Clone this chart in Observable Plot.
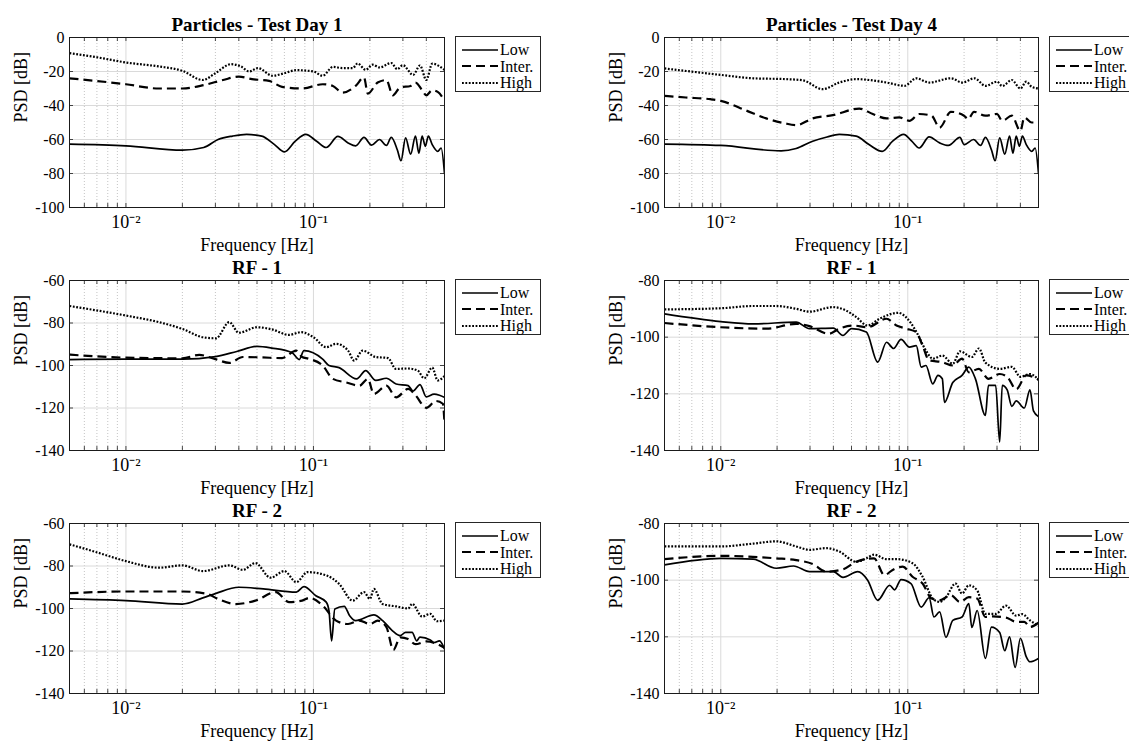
<!DOCTYPE html>
<html><head><meta charset="utf-8">
<script src="https://cdn.jsdelivr.net/npm/d3@7"></script>
<script src="https://cdn.jsdelivr.net/npm/@observablehq/plot@0.6"></script>
<style>
html,body{margin:0;padding:0;background:#fff;}
#root{position:relative;width:1129px;height:745px;overflow:hidden;font-family:"Liberation Serif",serif;}
.panel{position:absolute;}
.legend{position:absolute;border:1px solid #262626;background:#fff;box-sizing:border-box;width:86px;height:56px;}
.legend .row{position:absolute;left:0;height:16px;display:flex;align-items:center;font-size:16px;line-height:15px;color:#000;white-space:nowrap;}
.legend .row span{display:block;line-height:15px;height:15px;}
.legend svg{display:block;margin-left:6px;margin-right:2px;}
</style></head><body><div id="root"></div>
<script>
// ---------- data: [frequency Hz, PSD dB] ----------
const seriesNames = ["Low", "Inter.", "High"];
const titles = ["Particles - Test Day 1", "Particles - Test Day 4", "RF - 1", "RF - 1", "RF - 2", "RF - 2"];
const xDomain = [0.005, 0.5];
const xTickValues = [0.01, 0.1];
const xTickLabels = ["10\u207B\u00B2", "10\u207B\u00B9"];
const xMinor = [0.006, 0.007, 0.008, 0.009, 0.02, 0.03, 0.04, 0.05, 0.06, 0.07, 0.08, 0.09, 0.2, 0.3, 0.4];
const yTicksParticles = [-100, -80, -60, -40, -20, 0];
const yTicksRF1L = [-140, -120, -100, -80, -60];
const yTicksRF1R = [-140, -120, -100, -80];

const p1Low = [[0.005,-62.7],[0.01,-63.7],[0.02,-66.3],[0.026,-64.7],[0.031,-60],[0.037,-58],[0.044,-57],[0.053,-58],[0.062,-63],[0.07,-67.3],[0.08,-61],[0.091,-57],[0.104,-61],[0.117,-64.7],[0.135,-58.2],[0.153,-62],[0.168,-63.7],[0.186,-58.8],[0.204,-63.3],[0.225,-60],[0.245,-63.5],[0.26,-58.8],[0.28,-66],[0.293,-72.5],[0.31,-59],[0.33,-68.6],[0.35,-58],[0.365,-68],[0.38,-58],[0.395,-64],[0.41,-58],[0.43,-63],[0.46,-67],[0.48,-65],[0.5,-80]];
const p1Inter = [[0.005,-24],[0.01,-27.5],[0.015,-30],[0.02,-30],[0.026,-28],[0.033,-25],[0.04,-23],[0.047,-24.5],[0.058,-25.5],[0.068,-29],[0.087,-30],[0.112,-27.5],[0.127,-28.5],[0.143,-32.4],[0.168,-28.4],[0.186,-23.5],[0.195,-33],[0.22,-26.5],[0.245,-25],[0.265,-34],[0.29,-29.4],[0.33,-28.5],[0.35,-26.5],[0.38,-31],[0.40,-34],[0.43,-31],[0.46,-32],[0.5,-37]];
const p1High = [[0.005,-9.2],[0.0069,-11.5],[0.01,-14.7],[0.0149,-17],[0.02,-19.6],[0.0257,-25],[0.03,-21],[0.0363,-15.7],[0.041,-17],[0.0455,-20],[0.0505,-18],[0.0606,-22.5],[0.07,-21],[0.081,-19.2],[0.1,-20],[0.112,-22.5],[0.127,-17.3],[0.143,-18],[0.162,-18],[0.172,-15.3],[0.19,-19],[0.207,-16],[0.225,-17.6],[0.26,-15],[0.28,-18.6],[0.3,-16.3],[0.34,-22],[0.37,-16.5],[0.4,-25],[0.43,-15.4],[0.5,-19]];

const p2Low = [[0.005,-62.7],[0.01,-63.5],[0.021,-66.7],[0.0253,-65.3],[0.031,-61],[0.037,-58.5],[0.043,-57],[0.053,-58],[0.062,-63],[0.073,-67],[0.083,-61],[0.095,-57],[0.105,-61],[0.115,-65],[0.13,-58.5],[0.148,-62],[0.165,-63.5],[0.19,-58.8],[0.2,-63],[0.225,-60],[0.245,-63.5],[0.26,-58.8],[0.28,-66],[0.293,-72.5],[0.31,-59],[0.33,-68.6],[0.35,-58],[0.365,-68],[0.38,-58],[0.395,-64],[0.41,-58],[0.43,-63],[0.46,-67],[0.48,-65],[0.5,-80]];
const p2Inter = [[0.005,-34.3],[0.0065,-35.3],[0.0088,-36.3],[0.01,-37.3],[0.0137,-43],[0.0175,-47.6],[0.0218,-50.4],[0.0253,-51.6],[0.031,-47.6],[0.0398,-45.7],[0.055,-41.8],[0.065,-45],[0.077,-47.6],[0.09,-47],[0.102,-49],[0.115,-45],[0.134,-46],[0.148,-53],[0.17,-43.7],[0.2,-46],[0.21,-48],[0.226,-43.7],[0.26,-46],[0.3,-45],[0.32,-49],[0.36,-46],[0.4,-55],[0.42,-47],[0.46,-50],[0.5,-50]];
const p2High = [[0.005,-18.2],[0.01,-22],[0.0149,-24],[0.0224,-24.5],[0.0275,-25.2],[0.035,-30.4],[0.043,-26.5],[0.053,-24.5],[0.077,-26.5],[0.096,-28.4],[0.111,-24],[0.13,-26.5],[0.17,-24],[0.196,-26.5],[0.227,-24],[0.26,-28.4],[0.3,-26],[0.32,-28.5],[0.36,-25],[0.4,-30],[0.43,-26],[0.46,-29],[0.5,-30]];

const p3Low = [[0.005,-97.2],[0.01,-97],[0.02,-97],[0.03,-95.8],[0.039,-93.4],[0.05,-91],[0.06,-91.8],[0.077,-94],[0.084,-97.2],[0.089,-93],[0.112,-97],[0.121,-100],[0.137,-101],[0.17,-106.3],[0.19,-102.4],[0.215,-107],[0.245,-106],[0.276,-108.7],[0.32,-109.5],[0.34,-112],[0.37,-109],[0.4,-114.8],[0.44,-113.5],[0.47,-114],[0.5,-115]];
const p3Inter = [[0.005,-94.9],[0.01,-96.3],[0.02,-96.6],[0.0246,-95],[0.03,-97],[0.0356,-98.8],[0.042,-96],[0.053,-96.2],[0.068,-96.5],[0.081,-93],[0.087,-96],[0.094,-96.8],[0.112,-100],[0.127,-106.3],[0.15,-108],[0.176,-109.5],[0.195,-106.3],[0.21,-113.4],[0.245,-109.5],[0.276,-115],[0.32,-111],[0.35,-114],[0.4,-119.9],[0.45,-116.7],[0.49,-118],[0.5,-127]];
const p3High = [[0.005,-72],[0.01,-76.5],[0.015,-79.6],[0.02,-82.8],[0.0257,-86.7],[0.0302,-87.2],[0.0356,-79.6],[0.04,-84.6],[0.05,-82],[0.06,-83],[0.074,-85.6],[0.086,-84.3],[0.1,-86.7],[0.117,-91.4],[0.132,-89.8],[0.153,-93],[0.165,-97.7],[0.183,-93],[0.215,-96],[0.25,-96.5],[0.275,-101.6],[0.32,-101.4],[0.36,-102.4],[0.39,-106],[0.43,-101],[0.46,-107],[0.5,-105]];

const p4Low = [[0.005,-91.8],[0.01,-94.5],[0.0149,-95.3],[0.0253,-94.7],[0.0298,-97],[0.04,-96.8],[0.045,-99.4],[0.05,-97],[0.06,-98.2],[0.069,-108.8],[0.077,-101.8],[0.084,-104],[0.092,-100.8],[0.102,-103.5],[0.111,-103],[0.118,-110.6],[0.125,-110],[0.136,-116.5],[0.145,-113.5],[0.153,-114.7],[0.157,-123],[0.174,-116],[0.195,-113.5],[0.212,-110.6],[0.23,-114.7],[0.26,-127.6],[0.27,-117],[0.295,-117],[0.31,-137],[0.32,-117],[0.34,-118.6],[0.36,-124.4],[0.38,-122.5],[0.42,-125],[0.45,-118.6],[0.47,-126],[0.5,-128]];
const p4Inter = [[0.005,-95],[0.01,-96.5],[0.0175,-97],[0.0253,-95.3],[0.0298,-96.1],[0.0378,-98.8],[0.043,-97],[0.051,-95.9],[0.061,-96.5],[0.077,-93.5],[0.087,-95.9],[0.098,-97],[0.111,-98.2],[0.12,-103],[0.13,-108.2],[0.153,-108.8],[0.174,-110],[0.195,-107.6],[0.212,-112.4],[0.24,-111.2],[0.27,-114.7],[0.31,-113],[0.34,-114],[0.38,-118.4],[0.43,-113.5],[0.5,-115]];
const p4High = [[0.005,-90.2],[0.01,-89.8],[0.0149,-89],[0.0198,-89],[0.0253,-90],[0.0298,-91],[0.0397,-89.4],[0.0468,-90.6],[0.053,-92.9],[0.061,-95.9],[0.0706,-93.5],[0.089,-91.4],[0.098,-93],[0.11,-97.6],[0.125,-104.7],[0.136,-107.6],[0.153,-106.5],[0.174,-109.4],[0.19,-105],[0.22,-107],[0.24,-104],[0.26,-109],[0.31,-111.2],[0.36,-110.5],[0.4,-114],[0.45,-113],[0.5,-115]];

const p5Low = [[0.005,-95.5],[0.01,-96.3],[0.02,-97.9],[0.0257,-95],[0.03,-93],[0.04,-90],[0.054,-90.8],[0.081,-92.3],[0.089,-89.7],[0.103,-94],[0.117,-97],[0.121,-101],[0.125,-115.2],[0.13,-100.2],[0.146,-99],[0.156,-103.4],[0.168,-105.7],[0.21,-103],[0.234,-105.7],[0.264,-110.5],[0.29,-112.8],[0.31,-111.2],[0.336,-111.2],[0.355,-115.2],[0.37,-113.5],[0.42,-114.8],[0.44,-116],[0.47,-115.2],[0.5,-119]];
const p5Inter = [[0.005,-92.8],[0.01,-92],[0.02,-92],[0.0268,-93],[0.031,-95.5],[0.0386,-97.9],[0.049,-96.3],[0.063,-92.3],[0.074,-97],[0.087,-96.3],[0.095,-95],[0.112,-98.6],[0.132,-105.7],[0.153,-107.3],[0.176,-105.7],[0.2,-107.3],[0.22,-105.7],[0.245,-108.8],[0.267,-119.5],[0.29,-113.6],[0.32,-114.4],[0.35,-116.8],[0.4,-115.5],[0.45,-116.5],[0.5,-118.5]];
const p5High = [[0.005,-69.8],[0.0069,-73.4],[0.01,-77.7],[0.015,-80.8],[0.02,-79.7],[0.0257,-82.4],[0.0356,-79.7],[0.042,-81.8],[0.049,-78.6],[0.059,-85.5],[0.07,-82.4],[0.081,-87.6],[0.093,-82.9],[0.117,-84.4],[0.137,-88.4],[0.162,-96.3],[0.186,-92.3],[0.2,-95.5],[0.21,-90.8],[0.234,-97.9],[0.276,-99],[0.32,-100],[0.336,-97.8],[0.38,-103.8],[0.42,-102.5],[0.455,-106],[0.5,-105.7]];

const p6Low = [[0.005,-94.6],[0.01,-92.3],[0.0149,-92.6],[0.0198,-95.8],[0.0245,-95],[0.0298,-97],[0.04,-97],[0.045,-99],[0.054,-97],[0.061,-100],[0.069,-107.1],[0.08,-101.8],[0.085,-103.4],[0.092,-99.8],[0.104,-101.2],[0.118,-109.5],[0.13,-106.2],[0.138,-113],[0.148,-111.2],[0.16,-120.2],[0.174,-114.2],[0.195,-113],[0.212,-108.3],[0.22,-116.7],[0.235,-110.7],[0.26,-127.6],[0.28,-116.6],[0.31,-118.5],[0.33,-124.9],[0.35,-120],[0.375,-130.8],[0.4,-120.5],[0.43,-127],[0.45,-128.8],[0.5,-127.6]];
const p6Inter = [[0.005,-92.6],[0.01,-91.4],[0.0198,-92.3],[0.0253,-92.9],[0.031,-94.3],[0.0367,-97],[0.045,-96.2],[0.053,-93.5],[0.066,-92.3],[0.075,-98.2],[0.083,-96.4],[0.094,-95.2],[0.106,-98.8],[0.12,-101.2],[0.134,-106.5],[0.148,-107.1],[0.17,-105.3],[0.19,-107.7],[0.212,-106],[0.235,-106.5],[0.26,-113],[0.285,-112.8],[0.335,-113.2],[0.38,-114.7],[0.42,-114.7],[0.45,-116.5],[0.5,-115]];
const p6High = [[0.005,-88.1],[0.01,-88.1],[0.0149,-87.1],[0.0198,-86.3],[0.0253,-88.1],[0.0298,-89.3],[0.0367,-88.7],[0.043,-89.9],[0.053,-93.5],[0.06,-92.3],[0.066,-91],[0.077,-92.6],[0.088,-92.6],[0.106,-94],[0.12,-98.8],[0.136,-106.5],[0.148,-107.7],[0.16,-106],[0.18,-101.2],[0.195,-104.7],[0.212,-101.8],[0.235,-103.6],[0.26,-111.9],[0.295,-111.9],[0.335,-109],[0.38,-112.5],[0.41,-112],[0.45,-114.2],[0.5,-116]];

// ---------- layout ----------
const colLeft = [69, 664];
const plotW = [375, 374];
const rowTop = [37, 280, 523];
const plotH = 170;
const mL = 69, mT = 37, mR = 10, mB = 42;
const styles = [
  {strokeWidth: 1.7, strokeDasharray: null},
  {strokeWidth: 2.2, strokeDasharray: "9,5"},
  {strokeWidth: 2.2, strokeDasharray: "1.8,1.6"}
];

const panels = [
  {series: [p1Low, p1Inter, p1High], yTicks: yTicksParticles},
  {series: [p2Low, p2Inter, p2High], yTicks: yTicksParticles},
  {series: [p3Low, p3Inter, p3High], yTicks: yTicksRF1L},
  {series: [p4Low, p4Inter, p4High], yTicks: yTicksRF1R},
  {series: [p5Low, p5Inter, p5High], yTicks: yTicksRF1L},
  {series: [p6Low, p6Inter, p6High], yTicks: yTicksRF1R}
];

const root = document.getElementById("root");
const ink = "#1a1a1a";

panels.forEach((p, i) => {
  const col = i % 2, row = Math.floor(i / 2);
  const yDom = [p.yTicks[0], p.yTicks[p.yTicks.length - 1]];
  const W = plotW[col];
  const dbPerPx = (yDom[1] - yDom[0]) / plotH;
  const decPerPx = Math.log10(xDomain[1] / xDomain[0]) / W;
  const tickLenY = 4 * dbPerPx;
  const xTickEnd = xDomain[0] * Math.pow(10, 4 * decPerPx);
  const xTickStart = xDomain[1] / Math.pow(10, 4 * decPerPx);
  const allX = [...xMinor, ...xTickValues];
  const lines = p.series.map((s, k) => Plot.line(s, {
    x: d => d[0], y: d => d[1], stroke: "#000", strokeWidth: styles[k].strokeWidth,
    strokeDasharray: styles[k].strokeDasharray, strokeLinecap: k === 0 ? "round" : "butt",
    curve: "monotone-x", clip: true
  }));
  const chart = Plot.plot({
    width: mL + W + mR, height: mT + plotH + mB,
    marginLeft: mL, marginTop: mT, marginRight: mR, marginBottom: mB,
    style: {overflow: "visible", fontFamily: "Liberation Serif, serif", fontSize: "16px", color: "#000", background: "transparent"},
    x: {type: "log", domain: xDomain, axis: null},
    y: {domain: yDom, axis: null},
    marks: [
      Plot.ruleX(xMinor, {x: d => d, stroke: "#b5b5b5", strokeWidth: 0.8, strokeDasharray: "1,2"}),
      Plot.ruleX(xTickValues, {x: d => d, stroke: "#dadada", strokeWidth: 1}),
      Plot.ruleY(p.yTicks, {y: d => d, stroke: "#dadada", strokeWidth: 1}),
      ...lines,
      Plot.ruleX(allX, {x: d => d, y1: yDom[0], y2: yDom[0] + tickLenY, stroke: ink, strokeWidth: 0.8}),
      Plot.ruleX(allX, {x: d => d, y1: yDom[1], y2: yDom[1] - tickLenY, stroke: ink, strokeWidth: 0.8}),
      Plot.ruleY(p.yTicks, {y: d => d, x1: xDomain[0], x2: xTickEnd, stroke: ink, strokeWidth: 0.8}),
      Plot.ruleY(p.yTicks, {y: d => d, x1: xTickStart, x2: xDomain[1], stroke: ink, strokeWidth: 0.8}),
      Plot.frame({stroke: ink, strokeWidth: 1}),
      Plot.axisY(p.yTicks, {anchor: "left", tickSize: 0, tickPadding: 5, tickFormat: d => String(d), fontSize: 16, label: null}),
      Plot.axisX(xTickValues, {anchor: "bottom", tickSize: 0, tickPadding: 8, tickFormat: d => xTickLabels[xTickValues.indexOf(d)], fontSize: 18, label: null}),
      Plot.text([titles[i]], {text: d => d, frameAnchor: "top", lineAnchor: "middle", dy: -13, fontSize: 19, fontWeight: "bold", fill: "#000"}),
      Plot.text(["Frequency [Hz]"], {text: d => d, frameAnchor: "bottom", lineAnchor: "middle", dy: 38, fontSize: 18, fill: "#000"}),
      Plot.text(["PSD [dB]"], {text: d => d, frameAnchor: "left", dx: -48, rotate: -90, fontSize: 18, fill: "#000"})
    ]
  });
  const wrap = document.createElement("div");
  wrap.className = "panel";
  wrap.style.left = (colLeft[col] - mL) + "px";
  wrap.style.top = (rowTop[row] - mT) + "px";
  wrap.appendChild(chart);
  root.appendChild(wrap);

  // legend
  const lg = document.createElement("div");
  lg.className = "legend";
  lg.style.left = (colLeft[col] + W + 11) + "px";
  lg.style.top = (rowTop[row] - 1) + "px";
  const rowY = [4.5, 21, 37.5];
  seriesNames.forEach((name, k) => {
    const r = document.createElement("div");
    r.className = "row";
    r.style.top = rowY[k] + "px";
    const ns = "http://www.w3.org/2000/svg";
    const svg = document.createElementNS(ns, "svg");
    svg.setAttribute("width", 36); svg.setAttribute("height", 10);
    const ln = document.createElementNS(ns, "line");
    ln.setAttribute("x1", 0); ln.setAttribute("x2", 36); ln.setAttribute("y1", 5); ln.setAttribute("y2", 5);
    ln.setAttribute("stroke", "#000"); ln.setAttribute("stroke-width", styles[k].strokeWidth);
    if (styles[k].strokeDasharray) ln.setAttribute("stroke-dasharray", styles[k].strokeDasharray);
    svg.appendChild(ln);
    r.appendChild(svg);
    const t = document.createElement("span");
    t.textContent = name;
    r.appendChild(t);
    lg.appendChild(r);
  });
  root.appendChild(lg);
});
</script></body></html>
